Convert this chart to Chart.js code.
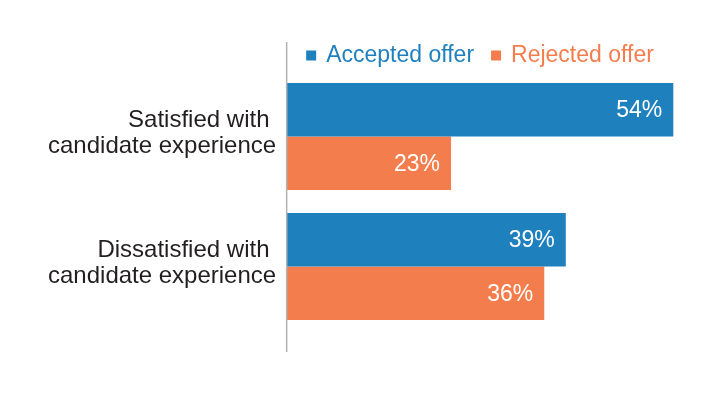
<!DOCTYPE html>
<html>
<head>
<meta charset="utf-8">
<script src="https://cdn.jsdelivr.net/npm/chart.js@4.4.1/dist/chart.umd.min.js"></script>
<style>
  html, body { margin: 0; padding: 0; background: #fff; }
  #wrap { width: 715px; height: 395px; position: relative; }
</style>
</head>
<body>
<div id="wrap"><canvas id="offerChart"></canvas></div>
<script>
// Chart data
const categories = [['Satisfied with ', 'candidate experience'], ['Dissatisfied with ', 'candidate experience']];
const seriesNames = ['Accepted offer', 'Rejected offer'];
const acceptedValues = [54, 39];
const rejectedValues = [23, 36];
const seriesColors = ['#1F80BE', '#F47D4D'];

const FONT = '"Liberation Sans", Arial, Helvetica, sans-serif';

// Legend drawn above the bars, starting just right of the axis line
const topLegend = {
    id: 'topLegend',
    afterDraw(chart) {
        const { ctx, chartArea } = chart;
        ctx.save();
        ctx.font = '23px ' + FONT;
        ctx.textAlign = 'left';
        ctx.textBaseline = 'middle';
        let x = chartArea.left + 20;
        const y = 55.5;
        chart.data.datasets.forEach((ds) => {
            ctx.fillStyle = ds.backgroundColor;
            ctx.fillRect(x, y - 5, 10, 10);
            ctx.fillText(ds.label, x + 20, y);
            x += 20 + ctx.measureText(ds.label).width + 17;
        });
        ctx.restore();
    }
};

// Long vertical axis line
const axisLine = {
    id: 'axisLine',
    afterDraw(chart) {
        const { ctx, chartArea } = chart;
        ctx.save();
        ctx.strokeStyle = '#b3b3b3';
        ctx.lineWidth = 1.5;
        ctx.beginPath();
        ctx.moveTo(chartArea.left + 0.5, 42);
        ctx.lineTo(chartArea.left + 0.5, 352);
        ctx.stroke();
        ctx.restore();
    }
};

// Value labels inside bar ends
const valueLabels = {
    id: 'valueLabels',
    afterDatasetsDraw(chart) {
        const { ctx } = chart;
        ctx.save();
        ctx.font = '23px ' + FONT;
        ctx.fillStyle = '#ffffff';
        ctx.textAlign = 'right';
        ctx.textBaseline = 'middle';
        chart.data.datasets.forEach((ds, i) => {
            chart.getDatasetMeta(i).data.forEach((bar, j) => {
                ctx.fillText(ds.data[j] + '%', bar.x - 11, bar.y + 1);
            });
        });
        ctx.restore();
    }
};

const ctx = document.getElementById('offerChart');
new Chart(ctx.getContext('2d'), {
    type: 'bar',
    data: {
        labels: categories,
        datasets: [
            { label: seriesNames[0], data: acceptedValues, backgroundColor: seriesColors[0] },
            { label: seriesNames[1], data: rejectedValues, backgroundColor: seriesColors[1] }
        ]
    },
    options: {
        indexAxis: 'y',
        responsive: true,
        maintainAspectRatio: false,
        animation: false,
        layout: { padding: { left: 46, right: 13, top: 71.5, bottom: 63.5 } },
        datasets: {
            bar: { barPercentage: 1, categoryPercentage: 0.823, borderWidth: 0 }
        },
        scales: {
            x: { display: false, min: 0, max: 58 },
            y: {
                grid: { display: false },
                border: { display: false },
                ticks: {
                    color: '#231f20',
                    padding: 2,
                    labelOffset: -3,
                    font: { family: FONT, size: 24, lineHeight: 1.1 }
                }
            }
        },
        plugins: {
            tooltip: { enabled: false },
            legend: { display: false }
        }
    },
    plugins: [topLegend, axisLine, valueLabels]
});
</script>
</body>
</html>
